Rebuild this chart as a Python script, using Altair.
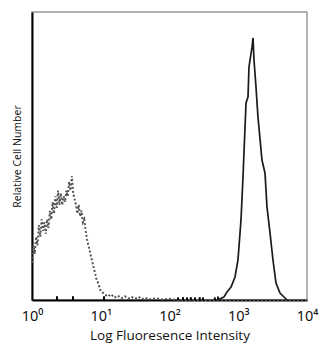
import altair as alt
import pandas as pd

# Control (dotted) histogram: x in log10 decades, y in % of max scale
ctrl_log = [0.00, 0.02, 0.04, 0.06, 0.08, 0.10, 0.12, 0.14, 0.16, 0.18,
            0.20, 0.22, 0.24, 0.26, 0.28, 0.30, 0.32, 0.34, 0.36, 0.38,
            0.40, 0.42, 0.44, 0.46, 0.48, 0.50, 0.52, 0.54, 0.56, 0.58,
            0.60, 0.62, 0.64, 0.66, 0.68, 0.70, 0.72, 0.74, 0.76, 0.78,
            0.80, 0.82, 0.84, 0.86, 0.88, 0.90, 0.92, 0.94, 0.96, 0.98,
            1.00, 1.05, 1.10, 1.15, 1.20, 1.25, 1.30, 1.35, 1.40, 1.45,
            1.50, 1.55, 1.60, 1.65, 1.70, 1.80, 1.90, 2.00, 2.10, 4.00]
ctrl_pct = [13, 19, 16, 22, 19, 26, 22, 28, 24, 27,
            23, 28, 25, 31, 28, 34, 30, 36, 32, 38,
            33, 37, 33, 36, 34, 38, 36, 41, 38, 43,
            37, 35, 33, 30, 33, 29, 31, 27, 28, 24,
            21, 19, 17, 15, 13, 11, 9, 7, 6, 4.5,
            3, 2.2, 1.2, 2.0, 0.8, 1.5, 0.6, 1.3, 0.5, 1.0,
            0.4, 1.1, 0.3, 0.8, 0.2, 0.6, 0.2, 0.4, 0, 0]

# Stained (solid) histogram
stain_log = [2.70, 2.79, 2.836, 2.895, 2.953, 2.996, 3.04, 3.069, 3.113, 3.142,
             3.156, 3.20, 3.215, 3.229, 3.258, 3.287, 3.345, 3.389, 3.418, 3.462,
             3.505, 3.549, 3.607, 3.68, 3.71]
stain_pct = [0, 1.0, 2.8, 4.5, 8.0, 13.9, 27.8, 42.7, 68.4, 70.5,
             80.9, 87.8, 91.0, 83.3, 74.0, 63.5, 48.6, 44.1, 32.3, 23.3,
             13.9, 5.9, 2.4, 0.7, 0]

# Small isolated events of the stained sample along the baseline
spike_log = [0.364, 0.596, 1.047, 2.124, 2.196, 2.255, 2.31, 2.371, 2.44, 2.487, 2.66, 2.705]
spike_pct = [1.3, 1.3, 1.3, 0.9, 1.0, 0.9, 1.0, 0.9, 1.0, 0.9, 0.9, 1.2]

tick_vals = [0, 1, 2, 3, 4]
tick_text = ["10\u2070", "10\u00b9", "10\u00b2", "10\u00b3", "10\u2074"]

ctrl = pd.DataFrame({"logv": ctrl_log, "pct": ctrl_pct})
stain = pd.DataFrame({"logv": stain_log, "pct": stain_pct})
spikes = pd.DataFrame({"logv": spike_log, "pct": spike_pct})

label_expr = "[" + ",".join("'" + t + "'" for t in tick_text) + "][datum.value]"

x_enc = alt.X("logv:Q",
              scale=alt.Scale(domain=[0, 4], nice=False, zero=False),
              axis=alt.Axis(values=tick_vals, labelExpr=label_expr, ticks=False, grid=False,
                            labelFlush=False, labelOverlap=False,
                            title="Log Fluoresence Intensity", domainColor="black",
                            domainWidth=2, labelFontSize=14.5, labelColor="#111",
                            labelFont="Noto Sans",
                            titleFontSize=13.5, titleFontWeight="normal", titleColor="#111",
                            labelPadding=9, titlePadding=6))
y_enc = alt.Y("pct:Q",
              scale=alt.Scale(domain=[0, 100], nice=False),
              axis=alt.Axis(labels=False, ticks=False, grid=False,
                            title="Relative Cell Number", domainColor="black",
                            domainWidth=2, titleFontSize=10.5, titleFontWeight="normal",
                            titleColor="#111", titlePadding=10))

ctrl_line = alt.Chart(ctrl).mark_line(color="#555", strokeWidth=2, strokeDash=[2, 2]).encode(x=x_enc, y=y_enc)
stain_line = alt.Chart(stain).mark_line(color="#1a1a1a", strokeWidth=1.7).encode(x=x_enc, y=y_enc)
spike_rule = alt.Chart(spikes).mark_rule(color="black", strokeWidth=2).encode(x=x_enc, y=y_enc, y2=alt.datum(0))

chart = alt.layer(ctrl_line, spike_rule, stain_line).properties(
    width=275, height=288,
    autosize=alt.AutoSizeParams(type="none"),
    padding={"left": 32, "top": 12, "right": 16, "bottom": 50},
    background="white",
).configure(font="Open Sans").configure_view(stroke="#999", strokeWidth=1.5)

chart.save("out.html", embed_options={"renderer": "svg", "actions": False})
